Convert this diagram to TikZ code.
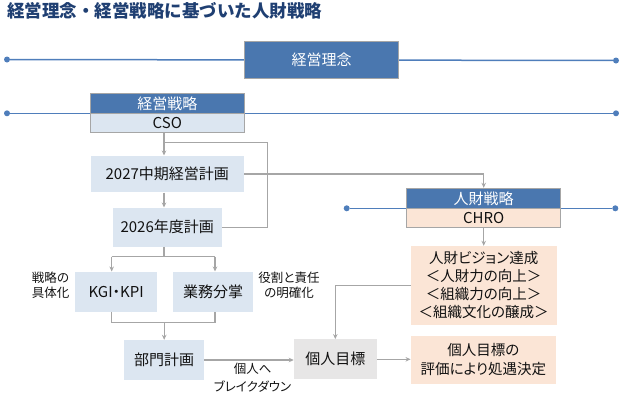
\documentclass[tikz,border=0pt]{standalone}
\usepackage{fontspec}
\setmainfont{Noto Sans CJK JP}[RawFeature=+palt]
\newfontfamily\titlefont{Noto Sans CJK JP}
\usetikzlibrary{arrows.meta,calc}
\definecolor{navy}{HTML}{1F3F72}
\definecolor{hblue}{HTML}{4A77AF}
\definecolor{lblue}{HTML}{DCE6F1}
\definecolor{peach}{HTML}{FBE5D6}
\definecolor{lgray}{HTML}{E7E6E6}
\definecolor{cgray}{HTML}{A6A6A6}
\definecolor{bline}{HTML}{4F7EBB}
\definecolor{txt}{HTML}{111111}
\begin{document}
\begin{tikzpicture}[x=1pt,y=-1pt,
 boxbase/.style={rectangle, inner sep=0pt, align=center, text=txt, font=\fontsize{15}{18}\selectfont},
 head/.style={boxbase, fill=hblue, draw=cgray, line width=1pt, text=white},
 sub/.style={boxbase, draw=cgray, line width=1pt},
 plain/.style={boxbase},
 conn/.style={draw=cgray, line width=1.2pt},
 arr/.style={conn, -{Stealth[length=5pt,width=4.5pt]}},
 bl/.style={draw=bline, line width=1.5pt},
 dot/.style={circle, fill=bline, inner sep=0pt, minimum size=6pt},
 lab/.style={align=center, text=txt, font=\fontsize{12.5}{15}\selectfont}
]
\useasboundingbox (0,0) rectangle (624,397);

\node[anchor=west, text=navy, font=\titlefont\bfseries\fontsize{17.5}{20}\selectfont, inner sep=0pt] (title) at (7,11) {経営理念・経営戦略に基づいた人財戦略};

% blue lines
\node[dot] (d1l) at (7,59.5) {};
\node[dot] (d1r) at (616,60.5) {};
\draw[bl] (d1l) -- (d1r);
\node[dot] (d2l) at (7,113.3) {};
\node[dot] (d2r) at (616,113.3) {};
\draw[bl] (d2l) -- (d2r);
\node[dot] (d3l) at (346.7,208.3) {};
\node[dot] (d3r) at (615.3,208.3) {};
\draw[bl] (d3l) -- (d3r);

% boxes
\node[head, minimum width=153.6pt, minimum height=36.6pt] (rinen) at (321.5,60) {経営理念};
\node[head, minimum width=153.3pt, minimum height=20pt] (senr) at (167.35,103.3) {経営戦略};
\node[sub, fill=lblue, minimum width=153.3pt, minimum height=19.4pt] (cso) at (167.35,123) {CSO};
\node[plain, fill=lblue, minimum width=153.3pt, minimum height=36.6pt] (m2027) at (167.3,174) {2027中期経営計画};
\node[plain, fill=lblue, minimum width=109pt, minimum height=39pt] (y2026) at (167.2,227.2) {2026年度計画};
\node[plain, fill=lblue, minimum width=82.3pt, minimum height=40pt] (kgi) at (116.2,291.7) {KGI・KPI};
\node[plain, fill=lblue, minimum width=80.6pt, minimum height=40pt] (gyomu) at (213,291.7) {業務分掌};
\node[plain, fill=lblue, minimum width=79.7pt, minimum height=40pt] (bumon) at (164.2,360) {部門計画};
\node[plain, fill=lgray, minimum width=82.7pt, minimum height=40pt] (kojin) at (335.3,359.3) {個人目標};
\node[head, minimum width=154pt, minimum height=20pt] (jinz) at (483.7,198.3) {人財戦略};
\node[sub, fill=peach, minimum width=154pt, minimum height=19.4pt] (chro) at (483.7,218) {CHRO};
\node[plain, fill=peach, minimum width=146pt, minimum height=79pt, font=\fontsize{14.5}{18}\selectfont] (vision) at (483.7,285.5) {人財ビジョン達成\\＜人財力の向上＞\\＜組織力の向上＞\\＜組織文化の醸成＞};
\node[plain, fill=peach, minimum width=145.3pt, minimum height=48pt, font=\fontsize{14.5}{19}\selectfont] (hyoka) at (483.4,360) {個人目標の\\評価により処遇決定};

% labels
\node[lab] (l1) at (50.5,285.5) {戦略の\\具体化};
\node[lab] (l2) at (289,285.5) {役割と責任\\の明確化};
\node[lab, font=\fontsize{12.5}{18}\selectfont] (l3) at (252.6,377.5) {個人へ\\ブレイクダウン};

% connectors
\coordinate (cx) at (164,0);
\draw[arr] (cx |- cso.south) -- (cx |- m2027.north);
\coordinate (br) at (164,142.7);
\coordinate (rx) at (267.3,142.7);
\draw[conn] (br) -- (rx) |- (y2026.east);
\draw[arr] (cx |- m2027.south) -- (cx |- y2026.north);
\draw[arr] (m2027.east) -| (jinz.north);
\draw[arr] (chro.south) -- (vision.north);
\coordinate (sp) at (164,256.7);
\coordinate (kl) at (111.7,0);
\coordinate (kr) at (215,0);
\draw[conn] (cx |- y2026.south) -- (sp);
\draw[conn] (kl |- sp) -- (kr |- sp);
\draw[arr] (kl |- sp) -- (kl |- kgi.north);
\draw[arr] (kr |- sp) -- (kr |- gyomu.north);
\coordinate (jn) at (164,322.3);
\draw[conn] (kl |- kgi.south) -- (kl |- jn) -- (kr |- jn) -- (kr |- gyomu.south);
\draw[arr] (bumon.north |- jn) -- (bumon.north);
\draw[arr] (bumon.east) -- (bumon.east -| kojin.west);
\draw[arr] (vision.west) -| (kojin.north);
\draw[arr] (kojin.east) -- (kojin.east -| hyoka.west);
\end{tikzpicture}
\end{document}
